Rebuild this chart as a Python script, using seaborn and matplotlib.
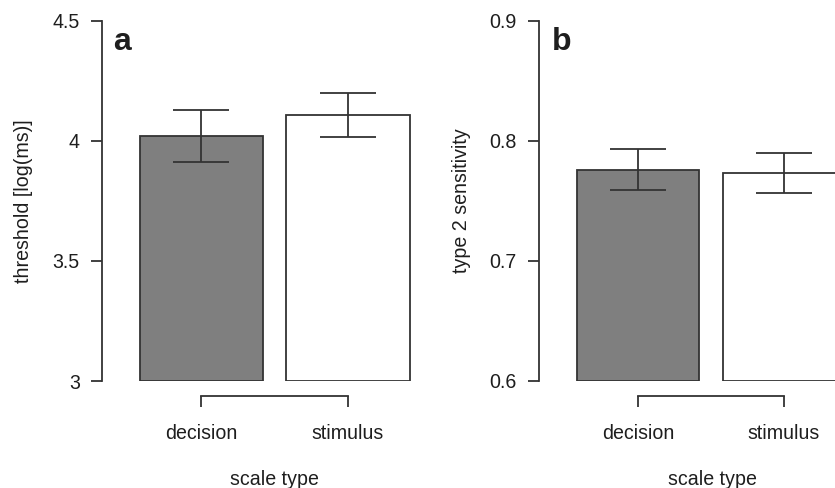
import matplotlib
matplotlib.use("Agg")
import matplotlib.pyplot as plt
import seaborn as sns
import pandas as pd

# ---- data ----
categories = ["decision", "stimulus"]
threshold_mean = [4.02, 4.106]
threshold_lo = [3.91, 4.017]
threshold_hi = [4.13, 4.20]
sens_mean = [0.776, 0.7736]
sens_lo = [0.759, 0.7564]
sens_hi = [0.7933, 0.790]
threshold_ticks = [3, 3.5, 4, 4.5]
threshold_ticklabels = ["3", "3.5", "4", "4.5"]
sens_ticks = [0.6, 0.7, 0.8, 0.9]
sens_ticklabels = ["0.6", "0.7", "0.8", "0.9"]

sns.set_style("white")
plt.rcParams["font.family"] = ["Liberation Sans", "DejaVu Sans"]

W, H = 835, 488
LINE = "#333333"
TEXT = "#1e1e1e"
FS = 14.1
bar_colors = ["#7f7f7f", "#ffffff"]
fig = plt.figure(figsize=(W / 100, H / 100), dpi=100)


def add_px_axes(left, right, top, bottom):
    return fig.add_axes([left / W, (H - bottom) / H, (right - left) / W, (bottom - top) / H])


panels = [
    dict(box=(102, 446, 20.7, 381), xlim=(-0.679, 1.669), mean=threshold_mean, lo=threshold_lo,
         hi=threshold_hi, ticks=threshold_ticks, ticklabels=threshold_ticklabels,
         ylabel="threshold [log(ms)]", letter="a", letter_x=113, ylabel_x=24, xlabel_x=274),
    dict(box=(539, 885, 20.7, 381), xlim=(-0.678, 1.692), mean=sens_mean, lo=sens_lo,
         hi=sens_hi, ticks=sens_ticks, ticklabels=sens_ticklabels,
         ylabel="type 2 sensitivity", letter="b", letter_x=552, ylabel_x=461, xlabel_x=712),
]

for p in panels:
    ax = add_px_axes(*p["box"])
    df = pd.DataFrame({"scale": categories, "value": p["mean"]})
    sns.barplot(data=df, x="scale", y="value", hue="scale", palette=bar_colors,
                edgecolor=LINE, linewidth=1.3, width=0.84, legend=False, ax=ax)
    base = p["ticks"][0]
    for patch in ax.patches:
        top = patch.get_y() + patch.get_height()
        patch.set_y(base)
        patch.set_height(top - base)
    yerr = [[m - l for m, l in zip(p["mean"], p["lo"])],
            [h - m for m, h in zip(p["mean"], p["hi"])]]
    ax.errorbar(x=[0, 1], y=p["mean"], yerr=yerr, fmt="none", ecolor=LINE,
                elinewidth=1.3, capsize=20.5, capthick=1.3)
    ax.set_ylim(p["ticks"][0], p["ticks"][-1])
    ax.set_xlim(*p["xlim"])
    ax.set_yticks(p["ticks"])
    ax.set_yticklabels(p["ticklabels"])
    ax.set_xticks([0, 1])
    ax.set_xticklabels(categories)
    ax.set_xlabel("")
    ax.set_ylabel("")
    for s in ("top", "right"):
        ax.spines[s].set_visible(False)
    for s in ("left", "bottom"):
        ax.spines[s].set_color(LINE)
        ax.spines[s].set_linewidth(1.3)
    ax.spines["bottom"].set_bounds(0, 1)
    ax.spines["bottom"].set_position(("outward", 10.8))
    ax.tick_params(axis="both", direction="out", length=7.9, width=1.3, color=LINE,
                   labelsize=FS, labelcolor=TEXT, pad=8, left=True, bottom=True)
    ax.tick_params(axis="x", pad=12)
    ax.patch.set_alpha(0)
    fig.text(p["letter_x"] / W, (H - 50) / H, p["letter"], fontsize=23, fontweight="bold",
             color=TEXT, ha="left", va="baseline")
    fig.text(p["ylabel_x"] / W, (H - 201) / H, p["ylabel"], rotation=90, fontsize=FS,
             color=TEXT, ha="center", va="center")
    fig.text(p["xlabel_x"] / W, (H - 485) / H, "scale type", fontsize=FS,
             color=TEXT, ha="center", va="baseline")

fig.savefig("out.png", dpi=100)
